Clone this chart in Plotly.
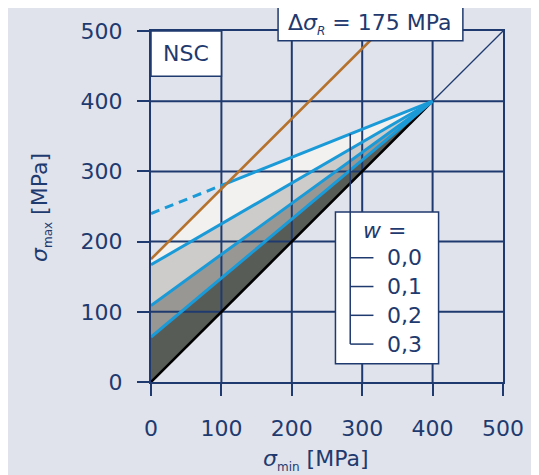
import plotly.graph_objects as go

# ---------------- data ----------------
tick_vals = [0, 100, 200, 300, 400, 500]
tick_text = ["0", "100", "200", "300", "400", "500"]

w_labels = ["0,0", "0,1", "0,2", "0,3"]
w_intercepts = [240, 167, 109, 64]      # sigma_max at sigma_min = 0 for each w
apex = [400, 400]                        # common end point (sigma_min, sigma_max)
delta_sigma_R = 175                      # constant stress range line: sigma_max = sigma_min + 175

fill_colors = ["#f2f1f0", "#cdcccb", "#989794", "#575c57"]

NAVY = "#1f3a6e"
BLUE = "#1a9ad7"
ORANGE = "#b5722c"
BG = "#e0e3ec"
FONT = "DejaVu Sans"
FS = 22

# intersection of w=0,0 line with delta sigma_R line
b0 = w_intercepts[0]
s0 = (apex[1] - b0) / apex[0]
x_int = (b0 - delta_sigma_R) / (1 - s0)
y_int = delta_sigma_R + x_int

fig = go.Figure()

# ---------------- filled regions ----------------
fig.add_trace(go.Scatter(
    x=[0, x_int, apex[0], 0, 0],
    y=[delta_sigma_R, y_int, apex[1], w_intercepts[1], delta_sigma_R],
    fill="toself", fillcolor=fill_colors[0], line=dict(width=0),
    mode="lines", hoverinfo="skip", showlegend=False))
for i in range(1, 3):
    fig.add_trace(go.Scatter(
        x=[0, apex[0], 0, 0],
        y=[w_intercepts[i], apex[1], w_intercepts[i + 1], w_intercepts[i]],
        fill="toself", fillcolor=fill_colors[i], line=dict(width=0),
        mode="lines", hoverinfo="skip", showlegend=False))
fig.add_trace(go.Scatter(
    x=[0, apex[0], 0, 0],
    y=[w_intercepts[3], apex[1], 0, w_intercepts[3]],
    fill="toself", fillcolor=fill_colors[3], line=dict(width=0),
    mode="lines", hoverinfo="skip", showlegend=False))

# ---------------- grid (drawn above fills) ----------------
gx, gy = [], []
for v in tick_vals[1:-1]:
    gx += [v, v, None]
    gy += [0, 500, None]
    gx += [0, 500, None]
    gy += [v, v, None]
fig.add_trace(go.Scatter(x=gx, y=gy, mode="lines",
                         line=dict(color=NAVY, width=2),
                         hoverinfo="skip", showlegend=False))

# diagonal sigma_max = sigma_min
fig.add_trace(go.Scatter(x=[0, 500], y=[0, 500], mode="lines",
                         line=dict(color=NAVY, width=1.3),
                         hoverinfo="skip", showlegend=False))
fig.add_trace(go.Scatter(x=[0, apex[0]], y=[0, apex[1]], mode="lines",
                         line=dict(color="#000000", width=2.6),
                         hoverinfo="skip", showlegend=False))

# ---------------- w lines ----------------
fig.add_trace(go.Scatter(x=[0, x_int], y=[b0, y_int], mode="lines",
                         line=dict(color=BLUE, width=3, dash="9px,6px"),
                         hoverinfo="skip", showlegend=False))
fig.add_trace(go.Scatter(x=[x_int, apex[0]], y=[y_int, apex[1]], mode="lines",
                         line=dict(color=BLUE, width=3),
                         hoverinfo="skip", showlegend=False))
for b in w_intercepts[1:]:
    fig.add_trace(go.Scatter(x=[0, apex[0]], y=[b, apex[1]], mode="lines",
                             line=dict(color=BLUE, width=3),
                             hoverinfo="skip", showlegend=False))

# constant stress range line
fig.add_trace(go.Scatter(x=[0, 500 - delta_sigma_R], y=[delta_sigma_R, 500],
                         mode="lines", line=dict(color=ORANGE, width=2.6),
                         hoverinfo="skip", showlegend=False))

# ---------------- boxes and legend ----------------
shapes = []
# NSC box
shapes.append(dict(type="rect", xref="x", yref="y", x0=0, x1=100, y0=435.5, y1=500,
                   fillcolor="white", line=dict(color=NAVY, width=1.5), layer="above"))
# delta sigma_R box
shapes.append(dict(type="rect", xref="paper", yref="paper",
                   x0=0.361, x1=0.886, y0=0.9724, y1=1.0675,
                   fillcolor="white", line=dict(color=NAVY, width=1.5), layer="above"))
# legend box
shapes.append(dict(type="rect", xref="x", yref="y", x0=262, x1=408.5, y0=26, y1=242,
                   fillcolor="white", line=dict(color=NAVY, width=1.5), layer="above"))

legend_y = [177, 136, 95, 54]
bracket_x = 283
bracket_tick_end = 316
bracket_top = b0 + s0 * bracket_x
shapes.append(dict(type="line", xref="x", yref="y", x0=bracket_x, x1=bracket_x,
                   y0=bracket_top, y1=legend_y[-1],
                   line=dict(color=NAVY, width=1.5), layer="above"))
for ly in legend_y:
    shapes.append(dict(type="line", xref="x", yref="y", x0=bracket_x, x1=bracket_tick_end,
                       y0=ly, y1=ly, line=dict(color=NAVY, width=1.5), layer="above"))

SUB = '<sub><span style="font-size:12px">{}</span></sub>'

annotations = []
annotations.append(dict(x=50, y=468, xref="x", yref="y", text="NSC", showarrow=False,
                        font=dict(family=FONT, size=FS, color=NAVY),
                        xanchor="center", yanchor="middle"))
annotations.append(dict(x=0.6235, y=1.02, xref="paper", yref="paper",
                        text="Δ<i>σ</i>" + SUB.format("<i>R</i>") + " = 175 MPa",
                        showarrow=False,
                        font=dict(family=FONT, size=FS, color=NAVY),
                        xanchor="center", yanchor="middle"))
annotations.append(dict(x=331, y=216, xref="x", yref="y", text="<i>w</i> =",
                        showarrow=False, font=dict(family=FONT, size=FS, color=NAVY),
                        xanchor="center", yanchor="middle"))
for lab, ly in zip(w_labels, legend_y):
    annotations.append(dict(x=332, y=ly, xref="x", yref="y", text=lab, showarrow=False,
                            font=dict(family=FONT, size=FS, color=NAVY),
                            xanchor="left", yanchor="middle"))
# axis titles
annotations.append(dict(x=0.470, y=-0.221, xref="paper", yref="paper",
                        text="<i>σ</i>" + SUB.format("min") + " [MPa]", showarrow=False,
                        font=dict(family=FONT, size=FS, color=NAVY),
                        xanchor="center", yanchor="middle"))
annotations.append(dict(x=-0.3125, y=0.4957, xref="paper", yref="paper",
                        text="<i>σ</i>" + SUB.format("max") + " [MPa]", showarrow=False,
                        textangle=-90,
                        font=dict(family=FONT, size=FS, color=NAVY),
                        xanchor="center", yanchor="middle"))

axis_common = dict(range=[0, 500], showgrid=False, zeroline=False,
                   showline=True, mirror=True, linecolor=NAVY, linewidth=2,
                   ticks="outside", ticklen=12, tickwidth=2, tickcolor=NAVY,
                   tickvals=tick_vals, ticktext=tick_text,
                   tickfont=dict(family=FONT, size=FS, color=NAVY),
                   layer="above traces", fixedrange=True)

fig.update_layout(
    width=539, height=475,
    margin=dict(l=143, r=44, t=23, b=101),
    paper_bgcolor=BG, plot_bgcolor=BG,
    xaxis=dict(**axis_common, ticklabelstandoff=14),
    yaxis=dict(**axis_common, ticklabelstandoff=10),
    shapes=shapes, annotations=annotations,
    showlegend=False,
)

fig.write_html("out.html")
